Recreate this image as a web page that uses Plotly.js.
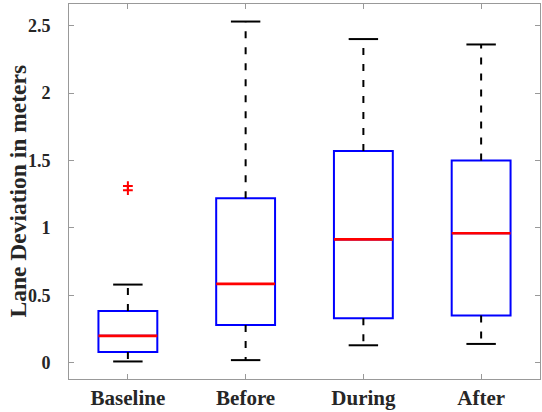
<!DOCTYPE html>
<html><head><meta charset="utf-8">
<script src="https://cdn.plot.ly/plotly-3.0.1.min.js"></script>
<style>html,body{margin:0;padding:0;background:#fff}#chart{width:542px;height:412px}</style>
</head><body><div id="chart"></div>
<script>
const categories = ["Baseline", "Before", "During", "After"];
const lowerWhisker = [0.01, 0.02, 0.13, 0.14];
const q1Values = [0.08, 0.28, 0.33, 0.35];
const medianValues = [0.20, 0.585, 0.915, 0.96];
const q3Values = [0.385, 1.22, 1.57, 1.50];
const upperWhisker = [0.58, 2.53, 2.40, 2.36];
const outlierCategory = [1, 1];
const outlierValues = [1.28, 1.31];
const yTickVals = [0, 0.5, 1, 1.5, 2, 2.5];
const yTickText = ["0", "0.5", "1", "1.5", "2", "2.5"];
const yTitle = "Lane Deviation in meters";

const pos = categories.map((c, i) => i + 1);
const boxHalf = 0.25, capHalf = 0.125;

const wx = [], wy = [], cx = [], cy = [], mx = [], my = [];
pos.forEach((p, i) => {
  wx.push(p, p, null, p, p, null);
  wy.push(q3Values[i], upperWhisker[i], null, q1Values[i], lowerWhisker[i], null);
  cx.push(p - capHalf, p + capHalf, null, p - capHalf, p + capHalf, null);
  cy.push(upperWhisker[i], upperWhisker[i], null, lowerWhisker[i], lowerWhisker[i], null);
  mx.push(p - boxHalf, p + boxHalf, null);
  my.push(medianValues[i], medianValues[i], null);
});

const traces = [
  {type: "scatter", mode: "lines", x: wx, y: wy, line: {color: "black", width: 2, dash: "7px,9px"}, hoverinfo: "skip"},
  {type: "scatter", mode: "lines", x: cx, y: cy, line: {color: "black", width: 2}, hoverinfo: "skip"},
  {type: "box", x: pos, q1: q1Values, median: medianValues, q3: q3Values,
   lowerfence: q1Values, upperfence: q3Values, width: 2 * boxHalf,
   line: {color: "#0000ff", width: 2}, fillcolor: "rgba(0,0,0,0)", boxpoints: false},
  {type: "scatter", mode: "lines", x: mx, y: my, line: {color: "#ff0000", width: 2.6}, hoverinfo: "skip"},
  {type: "scatter", mode: "markers", x: outlierCategory, y: outlierValues,
   marker: {symbol: "cross-thin-open", size: 7, color: "#ff0000", line: {color: "#ff0000", width: 2}}, hoverinfo: "skip"}
];

const serif = "Liberation Serif, Times New Roman, serif";
const fontX = {family: serif, size: 21, color: "#262626", weight: "bold"};
const fontY = {family: serif, size: 18, color: "#262626", weight: "bold"};
const layout = {
  width: 542, height: 412,
  margin: {l: 69, r: 2, t: 4, b: 33},
  showlegend: false,
  paper_bgcolor: "#fff", plot_bgcolor: "#fff",
  xaxis: {range: [0.5, 4.5], tickvals: pos, ticktext: categories, ticks: "inside", ticklen: 5,
    tickcolor: "#999", showline: true, linecolor: "#999", linewidth: 1, mirror: "ticks",
    showgrid: false, zeroline: false, tickfont: fontX, ticklabelstandoff: 0},
  yaxis: {range: [-0.12, 2.66], tickvals: yTickVals, ticktext: yTickText, ticks: "inside", ticklen: 5,
    tickcolor: "#999", showline: true, linecolor: "#999", linewidth: 1, mirror: "ticks",
    showgrid: false, zeroline: false, tickfont: fontY, ticklabelstandoff: 14, automargin: false},
  annotations: [{text: yTitle, textangle: -90, xref: "paper", yref: "paper", x: 0, y: 0.5,
    xanchor: "center", yanchor: "middle", xshift: -52, showarrow: false,
    font: {family: serif, size: 23.5, color: "#262626", weight: "bold"}}]
};
Plotly.newPlot("chart", traces, layout, {displayModeBar: false, staticPlot: true});
</script></body></html>
